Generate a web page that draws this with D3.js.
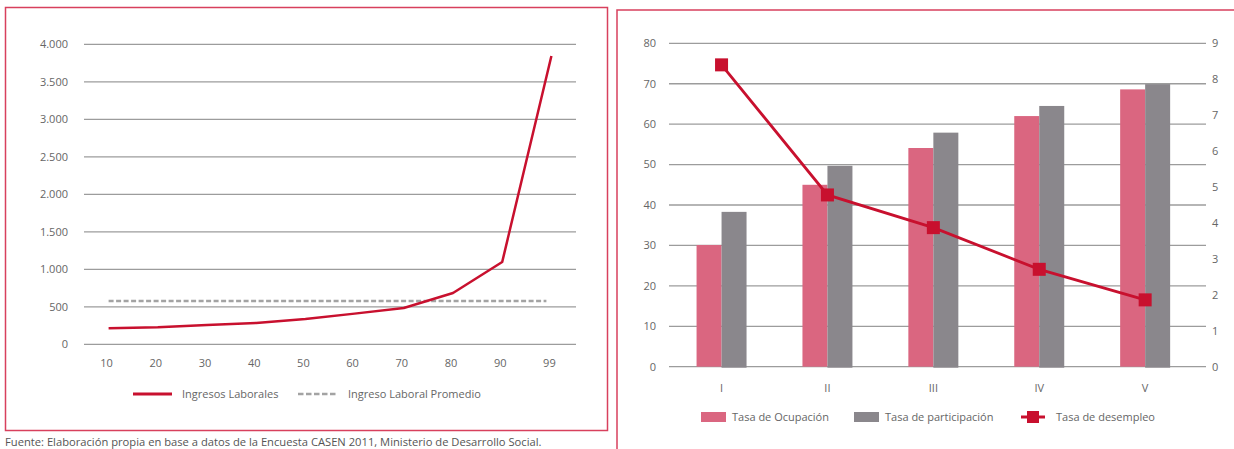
<!DOCTYPE html>
<html>
<head>
<meta charset="utf-8">
<script src="https://cdn.jsdelivr.net/npm/d3@7"></script>
<style>
  html, body { margin: 0; padding: 0; background: #ffffff; }
  svg { display: block; }
  text { font-family: "Open Sans", sans-serif; }
</style>
</head>
<body>
<svg id="chart" width="1234" height="449"></svg>
<script>
// ---------- Data ----------
const percentiles = ["10", "20", "30", "40", "50", "60", "70", "80", "90", "99"];
const ingresosLaborales = [215, 227, 257, 284, 337, 409, 484, 684, 1097, 3844];
const ingresoPromedio = 577;
const leftTicks = [0, 500, 1000, 1500, 2000, 2500, 3000, 3500, 4000];

const quintiles = ["I", "II", "III", "IV", "V"];
const tasaOcupacion = [30.1, 45, 54.1, 62, 68.6];
const tasaParticipacion = [38.3, 49.7, 57.9, 64.5, 69.9];
const tasaDesempleo = [8.4, 4.78, 3.87, 2.71, 1.86];
const rightTicksLeft = [0, 10, 20, 30, 40, 50, 60, 70, 80];
const rightTicksRight = [0, 1, 2, 3, 4, 5, 6, 7, 8, 9];

const legendLeft = ["Ingresos Laborales", "Ingreso Laboral Promedio"];
const legendRight = ["Tasa de Ocupación", "Tasa de participación", "Tasa de desempleo"];
const fuente = "Fuente: Elaboración propia en base a datos de la Encuesta CASEN 2011, Ministerio de Desarrollo Social.";

// ---------- Styles ----------
const BORDER = "#d8405d";
const GRID = "#9c9c9c";
const TEXT = "#666666";
const RED = "#c8102e";
const PINK = "#da6680";
const GRAY = "#8a878c";
const DASH = "#a3a3a3";

const svg = d3.select("#chart");
const fmt = d3.formatLocale({ decimal: ",", thousands: ".", grouping: [3], currency: ["$", ""] }).format(",");

// ---------- Panel borders ----------
svg.append("rect").attr("x", 5.5).attr("y", 7.5).attr("width", 602).attr("height", 423)
  .attr("fill", "none").attr("stroke", BORDER).attr("stroke-width", 1.5);
svg.append("rect").attr("x", 617).attr("y", 10).attr("width", 700).attr("height", 500)
  .attr("fill", "none").attr("stroke", BORDER).attr("stroke-width", 1.5);

// ---------- Left chart ----------
const L = svg.append("g");
const yL = d3.scaleLinear().domain([0, 4000]).range([344.3, 44.3]);
const xL = d3.scaleBand().domain(percentiles).range([84, 576]);
const cx = d => xL(d) + xL.bandwidth() / 2;

L.append("g").selectAll("line").data(leftTicks).join("line")
  .attr("x1", 84).attr("x2", 576)
  .attr("y1", d => yL(d)).attr("y2", d => yL(d))
  .attr("stroke", GRID).attr("stroke-width", 1.3);

L.append("g").selectAll("text").data(leftTicks).join("text")
  .attr("x", 68).attr("y", d => yL(d)).attr("dy", "0.35em")
  .attr("text-anchor", "end").attr("font-size", 11).attr("fill", TEXT)
  .text(d => fmt(d));

L.append("g").selectAll("text").data(percentiles).join("text")
  .attr("x", d => cx(d) - 2).attr("y", 363).attr("dy", "0.35em")
  .attr("text-anchor", "middle").attr("font-size", 11).attr("fill", TEXT)
  .text(d => d);

L.append("line")
  .attr("x1", cx(percentiles[0])).attr("x2", cx(percentiles[percentiles.length - 1]) - 5)
  .attr("y1", yL(ingresoPromedio)).attr("y2", yL(ingresoPromedio))
  .attr("stroke", DASH).attr("stroke-width", 2.5).attr("stroke-dasharray", "5,2.5");

const lineL = d3.line().x((d, i) => cx(percentiles[i])).y(d => yL(d));
L.append("path").datum(ingresosLaborales)
  .attr("d", lineL).attr("fill", "none").attr("stroke", RED).attr("stroke-width", 2.5)
  .attr("stroke-linejoin", "round");

// Left legend
const lgL = L.append("g");
lgL.append("line").attr("x1", 133).attr("x2", 172).attr("y1", 394).attr("y2", 394)
  .attr("stroke", RED).attr("stroke-width", 3);
lgL.append("text").attr("x", 182).attr("y", 394).attr("dy", "0.35em")
  .attr("font-size", 11).attr("fill", TEXT).text(legendLeft[0]);
lgL.append("line").attr("x1", 298).attr("x2", 338).attr("y1", 394).attr("y2", 394)
  .attr("stroke", DASH).attr("stroke-width", 2.5).attr("stroke-dasharray", "5.5,2.5");
lgL.append("text").attr("x", 348).attr("y", 394).attr("dy", "0.35em")
  .attr("font-size", 11).attr("fill", TEXT).text(legendLeft[1]);

// Footer
svg.append("text").attr("x", 5).attr("y", 445.5)
  .attr("font-size", 11.2).attr("fill", "#555").text(fuente);

// ---------- Right chart ----------
const R = svg.append("g");
const yR = d3.scaleLinear().domain([0, 80]).range([366.7, 43.3]);
const yR2 = d3.scaleLinear().domain([0, 9]).range([366.7, 43.3]);
const x0 = d3.scaleBand().domain(quintiles).range([668.6, 1198.1]).paddingInner(0.528).paddingOuter(0.264);
const x1 = d3.scaleBand().domain(["oc", "pa"]).range([0, x0.bandwidth()]);
const cR = d => x0(d) + x0.bandwidth() / 2;

R.append("g").selectAll("line").data(rightTicksLeft).join("line")
  .attr("x1", 669).attr("x2", 1206)
  .attr("y1", d => yR(d)).attr("y2", d => yR(d))
  .attr("stroke", GRID).attr("stroke-width", 1.3);

R.append("g").selectAll("text").data(rightTicksLeft).join("text")
  .attr("x", 656).attr("y", d => yR(d)).attr("dy", "0.35em")
  .attr("text-anchor", "end").attr("font-size", 11).attr("fill", TEXT)
  .text(d => d);

R.append("g").selectAll("text").data(rightTicksRight).join("text")
  .attr("x", 1212).attr("y", d => yR2(d)).attr("dy", "0.35em")
  .attr("text-anchor", "start").attr("font-size", 11).attr("fill", TEXT)
  .text(d => d);

R.append("g").selectAll("text").data(quintiles).join("text")
  .attr("x", d => cR(d)).attr("y", 388).attr("dy", "0.35em")
  .attr("text-anchor", "middle").attr("font-size", 11).attr("fill", TEXT)
  .text(d => d);

const groups = R.append("g").selectAll("g").data(quintiles).join("g")
  .attr("transform", d => `translate(${x0(d)},0)`);
groups.append("rect")
  .attr("x", x1("oc")).attr("width", x1.bandwidth())
  .attr("y", (d, i) => yR(tasaOcupacion[i]))
  .attr("height", (d, i) => yR(0) - yR(tasaOcupacion[i]))
  .attr("fill", PINK);
groups.append("rect")
  .attr("x", x1("pa")).attr("width", x1.bandwidth())
  .attr("y", (d, i) => yR(tasaParticipacion[i]))
  .attr("height", (d, i) => yR(0) - yR(tasaParticipacion[i]) + 1)
  .attr("fill", GRAY);

const lineR = d3.line().x((d, i) => cR(quintiles[i])).y(d => yR2(d));
R.append("path").datum(tasaDesempleo)
  .attr("d", lineR).attr("fill", "none").attr("stroke", RED).attr("stroke-width", 2.8);
R.append("g").selectAll("rect").data(tasaDesempleo).join("rect")
  .attr("x", (d, i) => cR(quintiles[i]) - 6.5).attr("y", d => yR2(d) - 6.5)
  .attr("width", 13).attr("height", 13).attr("fill", RED);

// Right legend
const lgR = R.append("g");
lgR.append("rect").attr("x", 701).attr("y", 412).attr("width", 25).attr("height", 10).attr("fill", PINK);
lgR.append("text").attr("x", 732).attr("y", 417).attr("dy", "0.35em")
  .attr("font-size", 11).attr("fill", TEXT).text(legendRight[0]);
lgR.append("rect").attr("x", 854).attr("y", 412).attr("width", 25).attr("height", 10).attr("fill", GRAY);
lgR.append("text").attr("x", 885).attr("y", 417).attr("dy", "0.35em")
  .attr("font-size", 11).attr("fill", TEXT).text(legendRight[1]);
lgR.append("line").attr("x1", 1021).attr("x2", 1045).attr("y1", 417).attr("y2", 417)
  .attr("stroke", RED).attr("stroke-width", 3);
lgR.append("rect").attr("x", 1027).attr("y", 411).attr("width", 12).attr("height", 12).attr("fill", RED);
lgR.append("text").attr("x", 1056).attr("y", 417).attr("dy", "0.35em")
  .attr("font-size", 11).attr("fill", TEXT).text(legendRight[2]);
</script>
</body>
</html>
